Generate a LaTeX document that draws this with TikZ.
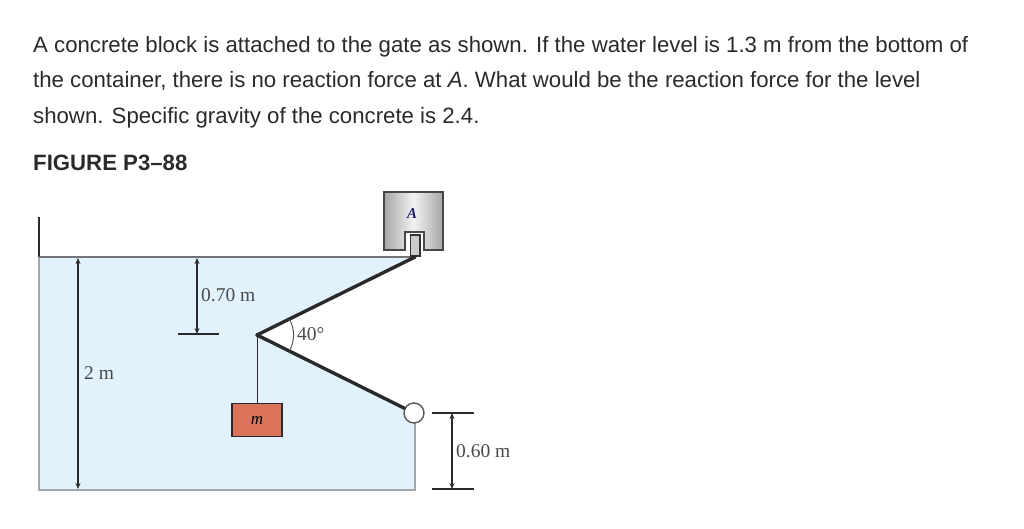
\documentclass[tikz,border=0pt]{standalone}
\usepackage{fontspec}
\setmainfont{Liberation Sans}
\newfontfamily\dimfont{Liberation Serif}
\usetikzlibrary{arrows.meta}
\definecolor{inkgray}{HTML}{2A2A2A}
\definecolor{wallgray}{HTML}{A3A5A7}
\definecolor{waterblue}{HTML}{E1F2FC}
\definecolor{massred}{HTML}{DC7459}
\begin{document}
\begin{tikzpicture}[x=1pt,y=-1pt,
  dimline/.style={draw=inkgray,line width=1.1pt,{Stealth[length=6pt,width=5pt]}-{Stealth[length=6pt,width=5pt]}},
  dimtick/.style={draw=inkgray,line width=1.3pt},
  dimlabel/.style={font=\dimfont\fontsize{19.5}{20}\selectfont,text=inkgray!85,inner sep=0pt},
  gatearm/.style={draw=inkgray,line width=3.4pt,line cap=round}
]
\useasboundingbox (0,0) rectangle (1024,528);
    \newcommand{\dimTick}[2]{
        \draw[dimtick] (#1) -- (#2);
    }
  % text above the figure
  \node (question) [anchor=north west,align=left,inner sep=0pt,text=inkgray,font=\fontsize{22.2}{35.7}\selectfont] at (33,36)
    {A concrete block is attached to the gate as shown. If the water level is 1.3 m from the bottom of\\
     the container, there is no reaction force at \textit{A}. What would be the reaction force for the level\\
     shown. Specific gravity of the concrete is 2.4.};
  \node (figtitle) [anchor=base west,inner sep=0pt,text=inkgray,font=\bfseries\fontsize{22.2}{24}\selectfont] at (33,170) {FIGURE P3--88};

  % points of the tank and gate
  \coordinate (walltop) at (39,217);
  \coordinate (topleft) at (39,257);
  \coordinate (gatetop) at (415,257);
  \coordinate (apex) at (257,335);
  \coordinate (botleft) at (39,490);
  \coordinate (botright) at (415,490);
  \coordinate (wallend) at (415,423);

  % water
  \fill[waterblue] (topleft) -- (gatetop) -- (apex) -- (414,413) -- (botright) -- (botleft) -- cycle;
  \draw[wallgray,line width=2.4pt] (topleft) -- (botleft) -- (botright) -- (wallend);
  \draw[inkgray,line width=1.3pt] (walltop) -- (topleft);
  \draw[wallgray!60!inkgray,line width=1.6pt] (topleft) -- (gatetop);

  % stop block
  \shade[left color=black!35,right color=black!35,middle color=black!5,draw=black!72,line width=1.6pt]
    (384,192) -- (443,192) -- (443,250) -- (424,250) -- (424,232) -- (405,232) -- (405,250) -- (384,250) -- cycle;
  \node (blocklabel) [font=\dimfont\bfseries\itshape\fontsize{15}{15}\selectfont,text=inkgray!70!blue,inner sep=0pt] at (412,214) {A};
  \fill[black!20,draw=black!80,line width=1.3pt] (410.5,235) rectangle (420,256);

  % gate and hinge
  \node (hinge) [circle,draw=black!65,fill=white,line width=1.4pt,minimum size=20pt,inner sep=0pt] at (414,413) {};
  \draw[gatearm] (gatetop) -- (apex);
  \draw[gatearm] (apex) -- (hinge);

  % hanging mass
  \node (mass) [draw=inkgray,fill=massred,line width=1.1pt,minimum width=50pt,minimum height=33pt,inner sep=0pt,anchor=north,
    font=\dimfont\itshape\fontsize{17}{17}\selectfont] at (257,403) {m};
  \draw[inkgray,line width=1pt] (apex) -- (mass.north);

  % angle
  \coordinate (arcup) at (289.5,319);
  \coordinate (arcdown) at (289.5,351);
  \draw[black!65,line width=1pt] (arcup) to[bend left=26] (arcdown);
  \node (anglelabel) [dimlabel,anchor=west] at (297,334) {40°};

  % 2 m
  \coordinate (twotop) at (78,258);
  \coordinate (twobot) at (78,489);
  \draw[dimline] (twotop) -- (twobot);
  \node (twolabel) [dimlabel,anchor=west] at (84,373) {2 m};

  % 0.70 m
  \coordinate (sevtop) at (197,258);
  \coordinate (sevbot) at (197,334);
  \coordinate (sevleft) at (178,334);
  \coordinate (sevright) at (219,334);
  \draw[dimline] (sevtop) -- (sevbot);
  \dimTick{sevleft}{sevright}
  \node (sevlabel) [dimlabel,anchor=west] at (201,295) {0.70 m};

  % 0.60 m
  \coordinate (sixtop) at (452,413);
  \coordinate (sixbot) at (452,489);
  \draw[dimline] (sixtop) -- (sixbot);
  \coordinate (sixa) at (432,413);
  \coordinate (sixb) at (474,413);
  \coordinate (sixc) at (432,489);
  \coordinate (sixd) at (474,489);
  \dimTick{sixa}{sixb}
  \dimTick{sixc}{sixd}
  \node (sixlabel) [dimlabel,anchor=west] at (456,451) {0.60 m};

\end{tikzpicture}
\end{document}
